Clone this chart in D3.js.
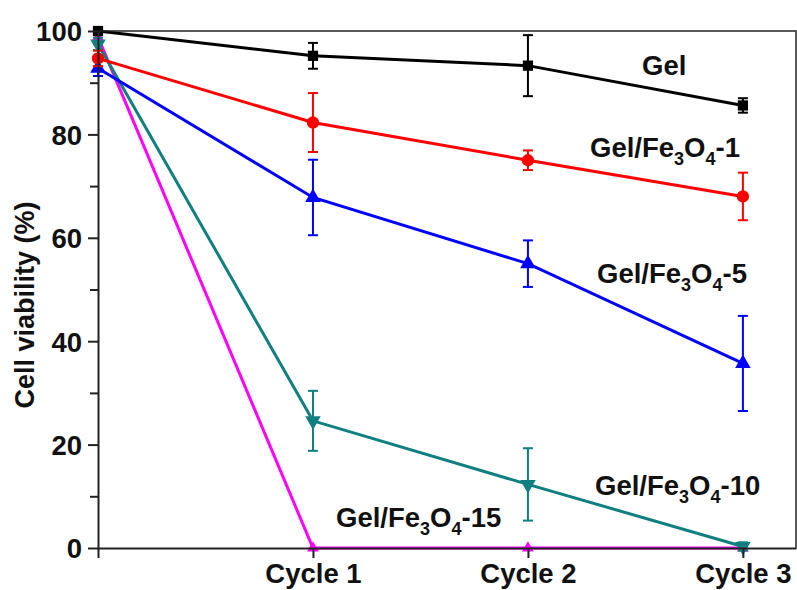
<!DOCTYPE html>
<html>
<head>
<meta charset="utf-8">
<script src="https://cdn.jsdelivr.net/npm/d3@7"></script>
<style>
  body { margin: 0; background: #fff; }
  text { font-family: "Liberation Sans", Arial, sans-serif; font-weight: bold; }
</style>
</head>
<body>
<div id="chart"></div>
<script>
// chart data
const cycles = [0, 1, 2, 3];
const cycleLabels = ["", "Cycle 1", "Cycle 2", "Cycle 3"];
const yTicks = [0, 20, 40, 60, 80, 100];
const yMinorTicks = [10, 30, 50, 70, 90];

const gel = [100, 95.2, 93.3, 85.6];
const gelErr = [0.5, 2.5, 5.9, 1.4];
const fe1 = [94.7, 82.3, 75.0, 68.0];
const fe1Err = [1.5, 5.7, 1.9, 4.6];
const fe5 = [92.8, 67.8, 55.0, 35.7];
const fe5Err = [1.5, 7.3, 4.5, 9.2];
const fe10 = [97.5, 24.6, 12.3, 0.3];
const fe10Err = [1.2, 5.8, 7.0, 0.8];
const fe15 = [98.8, 0, 0, 0];
const fe15Err = [1.0, 0, 0, 0];

const seriesNames = ["Gel", "Gel/Fe3O4-1", "Gel/Fe3O4-5", "Gel/Fe3O4-10", "Gel/Fe3O4-15"];

const series = [
  { name: seriesNames[4], values: fe15, err: fe15Err, color: "#ff00ff", symbol: d3.symbolTriangle, small: true },
  { name: seriesNames[3], values: fe10, err: fe10Err, color: "#0f7f7f", symbol: d3.symbolTriangle, flip: true },
  { name: seriesNames[2], values: fe5, err: fe5Err, color: "#0000ff", symbol: d3.symbolTriangle },
  { name: seriesNames[1], values: fe1, err: fe1Err, color: "#ff0000", symbol: d3.symbolCircle },
  { name: seriesNames[0], values: gel, err: gelErr, color: "#000000", symbol: d3.symbolSquare },
];

// label placement (left x, baseline y) in pixels
const labels = [
  { parts: ["Gel"], x: 642, y: 75 },
  { parts: ["Gel/Fe", "3", "O", "4", "-1"], x: 590, y: 157 },
  { parts: ["Gel/Fe", "3", "O", "4", "-5"], x: 597, y: 283 },
  { parts: ["Gel/Fe", "3", "O", "4", "-10"], x: 595, y: 495 },
  { parts: ["Gel/Fe", "3", "O", "4", "-15"], x: 336, y: 527 },
];

const W = 797, H = 590;
const margin = { top: 31, right: 1, bottom: 42, left: 98 };
const width = W - margin.left - margin.right;
const height = H - margin.top - margin.bottom;

const svg = d3.select("#chart").append("svg")
  .attr("width", W)
  .attr("height", H);

const g = svg.append("g")
  .attr("transform", "translate(" + margin.left + "," + margin.top + ")");

const x = d3.scaleLinear().domain([0, 3.247]).range([0, width]);
const y = d3.scaleLinear().domain([0, 100]).range([height, 0]);

const line = d3.line()
  .x(function(d, i) { return x(cycles[i]) })
  .y(function(d) { return y(d) });

// lines, error bars, markers
series.forEach(function(s) {
  const sg = g.append("g");

  sg.append("path")
    .attr("d", line(s.values))
    .attr("fill", "none")
    .attr("stroke", s.color)
    .attr("stroke-width", 3);

  const bars = sg.selectAll(".err")
    .data(s.values.map(function(v, i) { return { c: cycles[i], v: v, e: s.err[i] } }).filter(function(d) { return d.e > 0 }))
    .enter().append("g")
      .attr("stroke", s.color)
      .attr("stroke-width", 2);
  bars.append("line")
    .attr("x1", function(d) { return x(d.c) })
    .attr("x2", function(d) { return x(d.c) })
    .attr("y1", function(d) { return y(d.v + d.e) })
    .attr("y2", function(d) { return y(d.v - d.e) });
  [1, -1].forEach(function(sign) {
    bars.append("line")
      .attr("x1", function(d) { return x(d.c) - 5 })
      .attr("x2", function(d) { return x(d.c) + 5 })
      .attr("y1", function(d) { return y(d.v + sign * d.e) })
      .attr("y2", function(d) { return y(d.v + sign * d.e) });
  });

  sg.selectAll(".dot")
    .data(s.values)
    .enter().append("path")
      .attr("d", d3.symbol().type(s.symbol).size(s.small ? 60 : (s.symbol === d3.symbolCircle ? 120 : 105)))
      .attr("fill", s.color)
      .attr("transform", function(d, i) {
        return "translate(" + x(cycles[i]) + "," + y(d) + ")" + (s.flip ? " rotate(180)" : "");
      });
});

// frame
g.append("path")
  .attr("d", "M0,0H" + width + "V" + height)
  .attr("fill", "none")
  .attr("stroke", "#222")
  .attr("stroke-width", 1.5);

// axes
const xAxis = g.append("g")
  .attr("transform", "translate(0," + height + ")")
  .call(d3.axisBottom(x).tickValues(cycles).tickSize(10).tickSizeOuter(0)
    .tickFormat(function(d, i) { return cycleLabels[i] }));
xAxis.select(".domain").attr("stroke-width", 2).attr("stroke", "#222");
xAxis.selectAll(".tick line").attr("stroke-width", 2).attr("stroke", "#222");
xAxis.selectAll(".tick text")
  .attr("font-size", 27.5)
  .attr("fill", "#111")
  .attr("dy", 0)
  .attr("y", 35);

const yAxis = g.append("g")
  .call(d3.axisLeft(y).tickValues(yTicks).tickSize(10).tickSizeOuter(0).tickPadding(6));
yAxis.select(".domain").attr("stroke-width", 2).attr("stroke", "#222");
yAxis.selectAll(".tick line").attr("stroke-width", 2).attr("stroke", "#222");
yAxis.selectAll(".tick text")
  .attr("font-size", 27.5)
  .attr("fill", "#111")
  .attr("dy", "0.36em");

g.append("g")
  .call(d3.axisLeft(y).tickValues(yMinorTicks).tickSize(8).tickFormat(""))
  .call(function(a) {
    a.select(".domain").remove();
    a.selectAll(".tick line").attr("stroke-width", 2).attr("stroke", "#222");
  });

// y title
svg.append("text")
  .attr("transform", "translate(34,305) rotate(-90)")
  .attr("text-anchor", "middle")
  .attr("font-size", 27)
  .attr("fill", "#111")
  .text("Cell viability (%)");

// series labels with subscripts
labels.forEach(function(l) {
  const t = svg.append("text")
    .attr("x", l.x)
    .attr("y", l.y)
    .attr("font-size", 27.5)
    .attr("fill", "#111");
  l.parts.forEach(function(p, i) {
    const sub = i % 2 === 1;
    t.append("tspan")
      .attr("font-size", sub ? 18 : 27.5)
      .attr("dy", i === 0 ? 0 : (sub ? 8 : -8))
      .text(p);
  });
});
</script>
</body>
</html>
